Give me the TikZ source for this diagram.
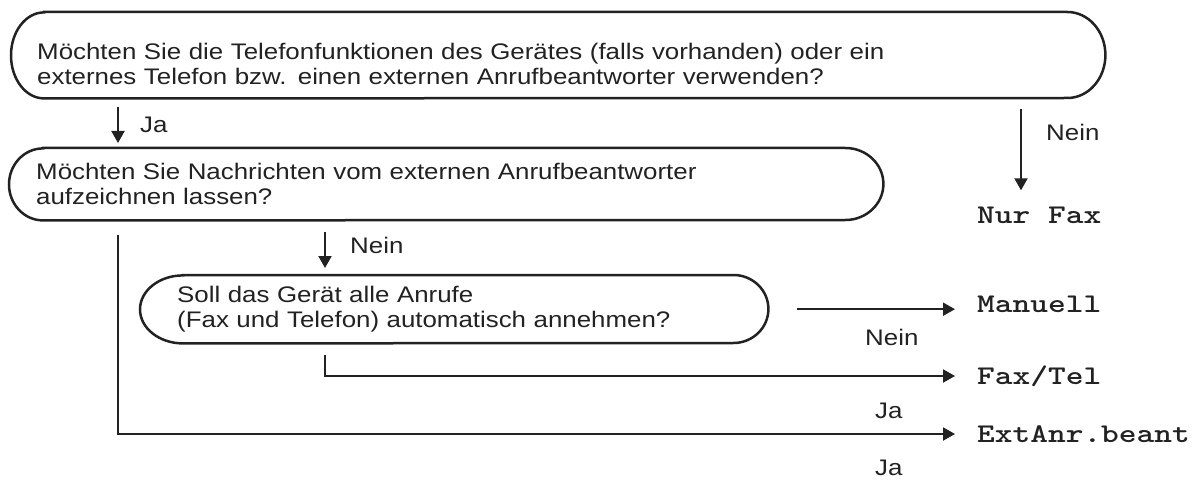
\documentclass[tikz,border=0pt]{standalone}
\usepackage{fontspec}
\setmainfont{Liberation Sans}[FakeStretch=1.15]
\newfontfamily\wahlfont{lmmonolt10-bold.otf}[FakeStretch=1.25]
\usetikzlibrary{arrows.meta}
\definecolor{tinte}{HTML}{222222}

% Umriss einer Frage: Knoten, Radius links, Radius rechts, halbe Hoehe
\newcommand{\umriss}[4]{%
 \draw[rand] ([xshift=#2]#1.north west) -- ([xshift=-#3]#1.north east)
   arc[start angle=90,end angle=-90,x radius=#3,y radius=#4]
   -- ([xshift=#2]#1.south west)
   arc[start angle=270,end angle=90,x radius=#2,y radius=#4] -- cycle;}

\begin{document}
\begin{tikzpicture}[x=1pt,y=-1pt,color=tinte,
  frage/.style={anchor=north west,inner ysep=0pt,align=left,font=\fontsize{22.5}{24.5}\selectfont},
  wahl/.style={inner sep=0pt,font=\fontsize{27}{28}\wahlfont},
  antwort/.style={inner sep=0pt,anchor=base west,font=\fontsize{22.5}{24}\selectfont},
  rand/.style={line width=2.5pt},
  pfeil/.style={line width=2pt,-{Triangle[length=12pt,width=13pt]}}]
\fill[white] (0,0) rectangle (1198,481);
\useasboundingbox (0,0) rectangle (1198,481);

\node[frage,inner xsep=26pt,text width=1042pt,minimum height=86pt,text depth=7pt] (q1) at (11,12)
  {Möchten Sie die Telefonfunktionen des Gerätes (falls vorhanden) oder ein\\
   externes Telefon bzw. einen externen Anrufbeantworter verwenden?};
\node[frage,inner xsep=27pt,text width=820pt,minimum height=72pt] (q2) at (9,148)
  {Möchten Sie Nachrichten vom externen Anrufbeantworter\\aufzeichnen lassen?};
\node[frage,inner xsep=37pt,text width=554pt,minimum height=68pt] (q3) at (140,275)
  {Soll das Gerät alle Anrufe\\(Fax und Telefon) automatisch annehmen?};
\umriss{q1}{33pt}{38pt}{43pt}
\umriss{q2}{34pt}{38pt}{36pt}
\umriss{q3}{43pt}{35pt}{34pt}

\node[wahl,anchor=base west] (nurfax) at (977,223) {Nur Fax};
\node[wahl,anchor=base west] (manuell) at (977,312) {Manuell};
\node[wahl,anchor=west] (faxtel) at (977,376) {Fax/Tel};
\node[wahl,anchor=west] (extanr) at (977,434) {ExtAnr.beant};

\coordinate (jaX) at (118,0);
\coordinate (neinX) at (1021,0);
\coordinate (mitteX) at (325,0);

\draw[pfeil,shorten <=9pt,shorten >=5pt] (q1.south -| jaX) -- (q2.north -| jaX);
\draw[pfeil,shorten <=11pt,shorten >=16pt] (q1.south -| neinX) -- (nurfax.north -| neinX);
\draw[pfeil,shorten <=12pt,shorten >=7pt] (q2.south -| mitteX) -- (q3.north -| mitteX);
\draw[pfeil,shorten <=29pt,shorten >=22pt] (q3.east) -- (q3.east -| manuell.west);
\draw[pfeil,shorten <=12pt,shorten >=22pt] (q3.south -| mitteX) |- (faxtel.west);
\draw[pfeil,shorten <=15pt,shorten >=22pt] (q2.south -| jaX) |- (extanr.west);

\node[antwort] (ja1) at (140,133) {Ja};
\node[antwort] (nein1) at (1046,141) {Nein};
\node[antwort] (nein2) at (350,253) {Nein};
\node[antwort] (nein3) at (865,345) {Nein};
\node[antwort] (ja2) at (875,418) {Ja};
\node[antwort] (ja3) at (875,475) {Ja};
\end{tikzpicture}
\end{document}
